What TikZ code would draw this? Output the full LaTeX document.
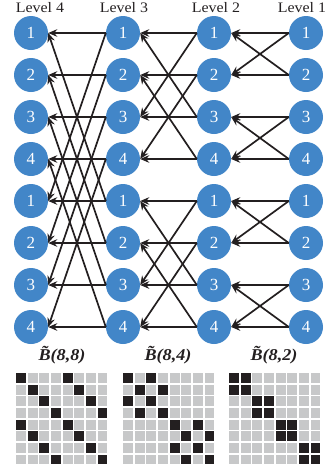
\documentclass[tikz,border=0pt]{standalone}
\usepackage{fontspec}
\setmainfont{Liberation Serif}
\usetikzlibrary{arrows.meta}
\definecolor{nodeblue}{RGB}{66,134,200}
\definecolor{ink}{RGB}{35,31,32}
\definecolor{cellgray}{RGB}{199,200,201}
\tikzset{
  pe/.style={circle,fill=nodeblue,draw=none,minimum size=34pt,inner sep=0pt,text=white,font=\fontsize{17}{17}\selectfont},
  lvl/.style={font=\fontsize{14.5}{15}\selectfont,text=ink,inner sep=0pt},
  link/.style={draw=ink,line width=1.7pt,-{Stealth[length=9pt,width=7.5pt]}},
  mlabel/.style={font=\fontsize{16.5}{17}\selectfont\bfseries\itshape,text=ink,inner sep=0pt},
  gcell/.style={fill=cellgray,draw=none},
  bcell/.style={fill=ink,draw=none}
}
\newcommand{\wide}[1]{\scalebox{1.1}[1]{#1}}
\begin{document}
\begin{tikzpicture}[x=1pt,y=-1pt]
\useasboundingbox (0,0) rectangle (326,472);
% level labels
\node[lvl] (lab4) at (40,7.5) {\wide{Level 4}};
\node[lvl] (lab3) at (124,7.5) {\wide{Level 3}};
\node[lvl] (lab2) at (216,7.5) {\wide{Level 2}};
\node[lvl] (lab1) at (302,7.5) {\wide{Level 1}};
% nodes
\foreach \lv/\x in {4/31,3/123,2/214,1/306}{
  \foreach \r/\t in {1/1,2/2,3/3,4/4,5/1,6/2,7/3,8/4}{
    \node[pe] (n\lv\r) at (\x,{33+42*(\r-1)}) {\t};
  }
}
% level 1 -> level 2
\foreach \a/\b in {1/2,3/4,5/6,7/8}{
  \draw[link] (n1\a.west) -- (n2\a.east);
  \draw[link] (n1\a.west) -- (n2\b.east);
  \draw[link] (n1\b.west) -- (n2\b.east);
  \draw[link] (n1\b.west) -- (n2\a.east);
}
% level 2 -> level 3
\foreach \a/\b in {1/3,2/4,5/7,6/8}{
  \draw[link] (n2\a.west) -- (n3\a.east);
  \draw[link] (n2\a.west) -- (n3\b.east);
  \draw[link] (n2\b.west) -- (n3\b.east);
  \draw[link] (n2\b.west) -- (n3\a.east);
}
% level 3 -> level 4
\foreach \a/\b in {1/5,2/6,3/7,4/8}{
  \draw[link] (n3\a.west) -- (n4\a.east);
  \draw[link] (n3\a.west) -- (n4\b.east);
  \draw[link] (n3\b.west) -- (n4\b.east);
  \draw[link] (n3\b.west) -- (n4\a.east);
}
% matrix labels
\node[mlabel] (m1) at (62,355) {\wide{\~B(8,8)}};
\node[mlabel] (m2) at (168,355) {\wide{\~B(8,4)}};
\node[mlabel] (m3) at (274,355) {\wide{\~B(8,2)}};
% matrices
\def\pitch{11.65}
\def\csz{9.9}
\foreach \mx/\kind in {16/1,123/2,229/3}{
  \foreach \i in {0,...,7}{
    \foreach \j in {0,...,7}{
      \pgfmathtruncatemacro{\blk}{
        \kind==1 ? (mod(\i-\j+8,4)==0 ? 1 : 0) :
        (\kind==2 ? ((int(\i/4)==int(\j/4) && mod(\i-\j+8,2)==0) ? 1 : 0) :
        (int(\i/2)==int(\j/2) ? 1 : 0))}
      \ifnum\blk=1
        \fill[bcell] ({\mx+\j*\pitch},{373+\i*\pitch}) rectangle ++(\csz,\csz);
      \else
        \fill[gcell] ({\mx+\j*\pitch},{373+\i*\pitch}) rectangle ++(\csz,\csz);
      \fi
    }
  }
}
\end{tikzpicture}
\end{document}
